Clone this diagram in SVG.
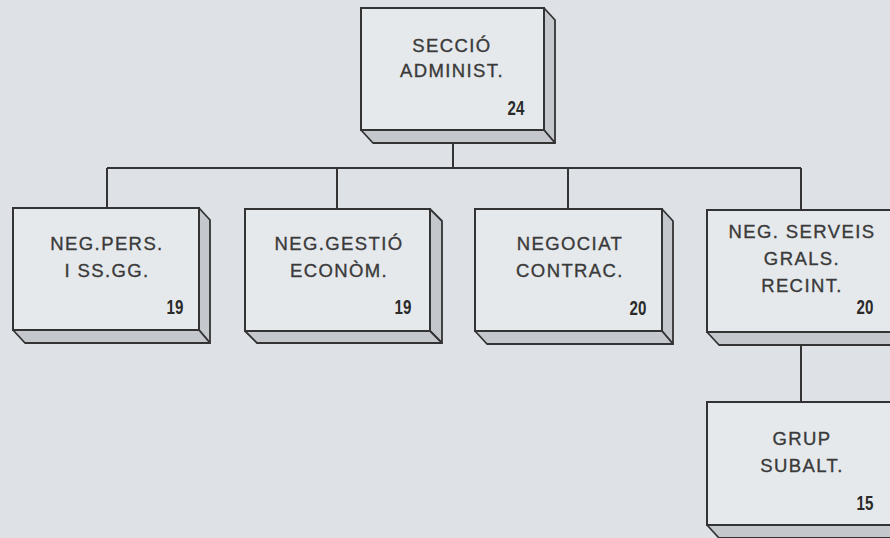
<svg xmlns="http://www.w3.org/2000/svg" width="890" height="538" viewBox="0 0 890 538">
<style>
.bg{fill:#dee2e6}
.face{fill:#e6e9ec;stroke:#333;stroke-width:2}
.slab{fill:#c4c8cc;stroke:#333;stroke-width:1.8;stroke-linejoin:round}
.lbl{font-family:"Liberation Sans",Arial,sans-serif;font-size:18.5px;letter-spacing:1.4px;fill:#3a3a3a;stroke:#3a3a3a;stroke-width:0.35;text-anchor:middle}
.num{font-family:"Liberation Sans",Arial,sans-serif;font-size:21px;font-weight:bold;fill:#2a2a2a;text-anchor:middle}
.conn{stroke:#333;stroke-width:2;fill:none}
</style>
<rect class="bg" x="0" y="0" width="890" height="538"/>
<g id="connectors">
<path class="conn" d="M453,143 V168 M107,168 H801 M107,168 V208 M337,168 V209 M568,168 V209 M801,168 V210 M801,345 V402"/>
</g>
<g id="n-seccio">
<polygon class="slab" points="544,8 555,20 555,143 544,130"/>
<polygon class="slab" points="361,130 373,143 555,143 544,130"/>
<rect class="face" x="361" y="8" width="183" height="122"/>
<text class="lbl" x="452" y="52">SECCIÓ</text>
<text class="lbl" x="452" y="77">ADMINIST.</text>
<text class="num" x="516" y="115" transform="translate(516 0) scale(0.72 1) translate(-516 0)">24</text>
</g>
<g id="n-pers">
<polygon class="slab" points="199,208 210,220 210,343 199,330"/>
<polygon class="slab" points="13,330 25,343 210,343 199,330"/>
<rect class="face" x="13" y="208" width="186" height="122"/>
<text class="lbl" x="107" y="250">NEG.PERS.</text>
<text class="lbl" x="107" y="277">I SS.GG.</text>
<text class="num" x="175" y="314" transform="translate(175 0) scale(0.72 1) translate(-175 0)">19</text>
</g>
<g id="n-gestio">
<polygon class="slab" points="430,209 442,221 442,343 430,331"/>
<polygon class="slab" points="245,331 257,343 442,343 430,331"/>
<rect class="face" x="245" y="209" width="185" height="122"/>
<text class="lbl" x="339" y="250">NEG.GESTIÓ</text>
<text class="lbl" x="339" y="277">ECONÒM.</text>
<text class="num" x="403" y="314" transform="translate(403 0) scale(0.72 1) translate(-403 0)">19</text>
</g>
<g id="n-negociat">
<polygon class="slab" points="662,209 673,221 673,344 662,331"/>
<polygon class="slab" points="475,331 487,344 673,344 662,331"/>
<rect class="face" x="475" y="209" width="187" height="122"/>
<text class="lbl" x="570" y="250">NEGOCIAT</text>
<text class="lbl" x="570" y="277">CONTRAC.</text>
<text class="num" x="638" y="315" transform="translate(638 0) scale(0.72 1) translate(-638 0)">20</text>
</g>
<g id="n-serveis">
<polygon class="slab" points="707,332 719,345 905,345 893,332"/>
<rect class="face" x="707" y="210" width="186" height="122"/>
<text class="lbl" x="802" y="238">NEG. SERVEIS</text>
<text class="lbl" x="802" y="265">GRALS.</text>
<text class="lbl" x="802" y="292">RECINT.</text>
<text class="num" x="865" y="314" transform="translate(865 0) scale(0.72 1) translate(-865 0)">20</text>
</g>
<g id="n-grup">
<polygon class="slab" points="707,525 719,538 905,538 893,525"/>
<rect class="face" x="707" y="402" width="186" height="123"/>
<text class="lbl" x="802" y="445">GRUP</text>
<text class="lbl" x="802" y="472">SUBALT.</text>
<text class="num" x="865" y="510" transform="translate(865 0) scale(0.72 1) translate(-865 0)">15</text>
</g>
</svg>
